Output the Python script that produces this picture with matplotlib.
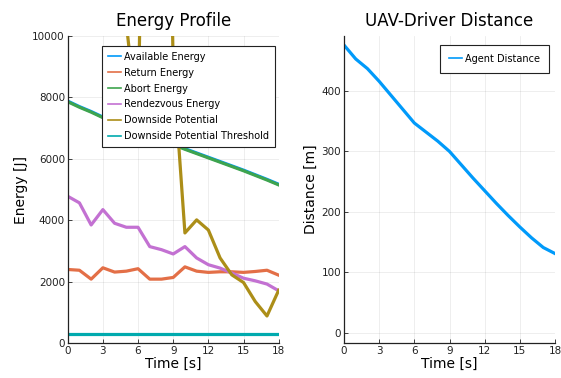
import matplotlib
matplotlib.use("Agg")
import matplotlib.pyplot as plt
import numpy as np

time_s = list(range(19))
available_energy = [7880, 7700, 7540, 7360, 7210, 7060, 6910, 6770, 6620, 6480, 6330, 6190, 6050, 5910, 5770, 5630, 5480, 5330, 5170]
return_energy = [2395, 2370, 2080, 2450, 2310, 2340, 2420, 2080, 2080, 2135, 2480, 2340, 2300, 2320, 2320, 2300, 2330, 2370, 2210]
abort_energy = [7860, 7680, 7520, 7340, 7190, 7040, 6890, 6750, 6600, 6460, 6310, 6170, 6030, 5890, 5750, 5610, 5460, 5310, 5150]
rendezvous_energy = [4780, 4565, 3845, 4345, 3900, 3770, 3770, 3140, 3040, 2900, 3140, 2770, 2550, 2440, 2280, 2110, 2025, 1920, 1700]
downside_potential = [40000, 38000, 36000, 34000, 30000, 10400, 7000, 30000, 30000, 9000, 3585, 4010, 3680, 2770, 2220, 1970, 1350, 880, 1720]
downside_threshold = [300] * 19
agent_distance = [476, 453, 437, 416, 393, 370, 347, 332, 317, 300, 278, 256, 235, 214, 194, 175, 157, 141, 131]

colors = ["#009AFA", "#E36F47", "#3EA44E", "#C371D2", "#AC8E18", "#00AAAE"]
W, H = 561, 378
fig = plt.figure(figsize=(W / 100, H / 100), dpi=100)

def ax_rect(x0, y0, x1, y1):
    return [x0 / W, 1 - y1 / H, (x1 - x0) / W, (y1 - y0) / H]

def style(ax):
    for s in ["top", "right"]:
        ax.spines[s].set_visible(False)
    for s in ["left", "bottom"]:
        ax.spines[s].set_linewidth(0.9)
        ax.spines[s].set_color("#222222")
    ax.grid(True, color="#000000", alpha=0.08, linewidth=0.6)
    ax.tick_params(direction="in", length=3, width=0.6, labelsize=7.5, pad=2, colors="#222222")
    ax.set_axisbelow(True)

def style_legend(leg):
    fr = leg.get_frame()
    fr.set_edgecolor("#222222")
    fr.set_linewidth(0.8)
    fr.set_alpha(1)
    fr.set_facecolor("white")
    leg.set_zorder(10)
    for h in leg.get_lines():
        h.set_linewidth(1.2)

ax1 = fig.add_axes(ax_rect(67.7, 36, 278.7, 343))
style(ax1)
series = [available_energy, return_energy, abort_energy, rendezvous_energy, downside_potential, downside_threshold]
labels = ["Available Energy", "Return Energy", "Abort Energy", "Rendezvous Energy", "Downside Potential", "Downside Potential Threshold"]
for s, l, c in zip(series, labels, colors):
    ax1.plot(time_s, s, color=c, lw=2.3, label=l)
ax1.set_xlim(0, 18)
ax1.set_ylim(0, 10000)
ax1.set_xticks([0, 3, 6, 9, 12, 15, 18])
ax1.set_yticks([0, 2000, 4000, 6000, 8000, 10000])
ax1.set_title("Energy Profile", fontsize=12, pad=7)
ax1.set_xlabel("Time [s]", fontsize=10, labelpad=1)
ax1.set_ylabel("Energy [J]", fontsize=10, labelpad=3)
leg = ax1.legend(loc="upper left", bbox_to_anchor=((102 - 67.7) / 211, (343 - 46) / 307), fontsize=7.0,
                 frameon=True, fancybox=False, framealpha=1, borderpad=0.6, labelspacing=0.6, handlelength=1.4,
                 handletextpad=0.3, borderaxespad=0)
style_legend(leg)

ax2 = fig.add_axes(ax_rect(344, 36, 555, 343))
style(ax2)
ax2.plot(time_s, agent_distance, color=colors[0], lw=2.3, label="Agent Distance")
ax2.set_xlim(0, 18)
ax2.set_ylim(-17, 491)
ax2.set_xticks([0, 3, 6, 9, 12, 15, 18])
ax2.set_yticks([0, 100, 200, 300, 400])
ax2.set_title("UAV-Driver Distance", fontsize=12, pad=7)
ax2.set_xlabel("Time [s]", fontsize=10, labelpad=1)
ax2.set_ylabel("Distance [m]", fontsize=10, labelpad=3)
leg2 = ax2.legend(loc="upper right", bbox_to_anchor=((549 - 344) / 211, (343 - 45) / 307), fontsize=7.0,
                  frameon=True, fancybox=False, framealpha=1, borderpad=0.9, handlelength=1.4,
                  handletextpad=0.3, borderaxespad=0)
style_legend(leg2)

fig.savefig("out.png", dpi=100)
